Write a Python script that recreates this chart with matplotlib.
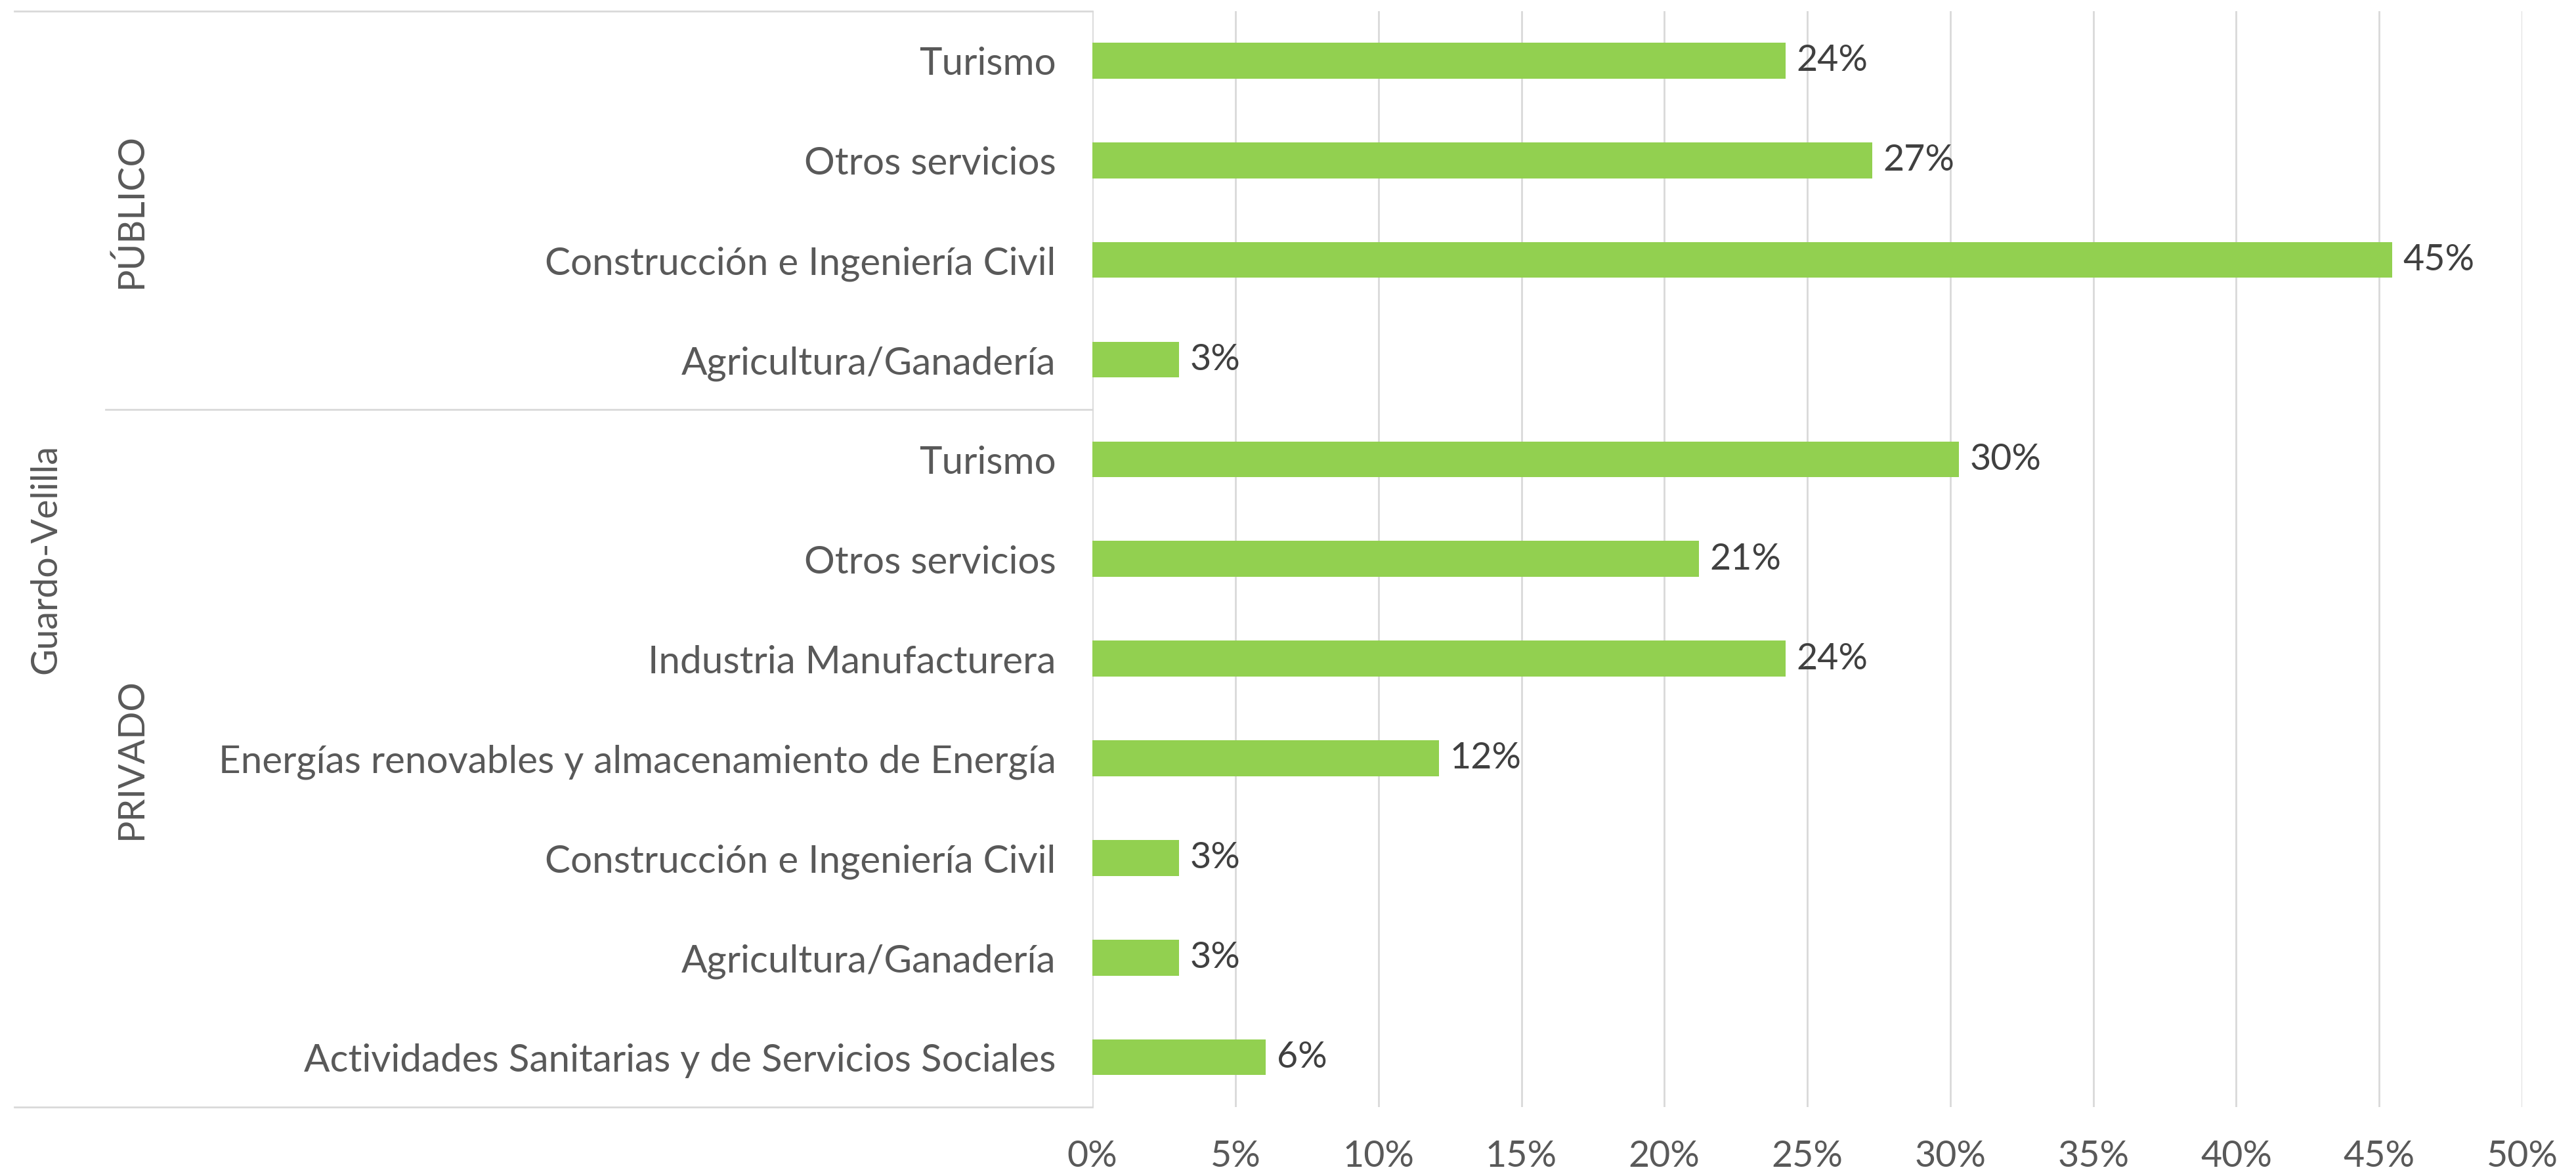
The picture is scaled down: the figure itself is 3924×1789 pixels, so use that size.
import matplotlib.pyplot as plt
import matplotlib.transforms as mtransforms
from matplotlib.ticker import FuncFormatter

# Datos (de arriba abajo)
categorias = ['Turismo', 'Otros servicios', 'Construcción e Ingeniería Civil', 'Agricultura/Ganadería',
              'Turismo', 'Otros servicios', 'Industria Manufacturera',
              'Energías renovables y almacenamiento de Energía', 'Construcción e Ingeniería Civil',
              'Agricultura/Ganadería', 'Actividades Sanitarias y de Servicios Sociales']
valores = [24.24, 27.27, 45.45, 3.03,
           30.30, 21.21, 24.24, 12.12, 3.03, 3.03, 6.06]
etiquetas = ['24%', '27%', '45%', '3%', '30%', '21%', '24%', '12%', '3%', '3%', '6%']
grupos = ['PÚBLICO', 'PRIVADO']
tam_grupos = [4, 7]
nivel_superior = 'Guardo-Velilla'
x_ticks = [0, 5, 10, 15, 20, 25, 30, 35, 40, 45, 50]

verde = '#92D050'
gris_texto = '#595959'
gris_linea = '#D9D9D9'

plt.rcParams['font.family'] = ['Lato', 'DejaVu Sans']

fig = plt.figure(figsize=(19.62, 8.9475), dpi=200)
ax = fig.add_axes([0.4241, 0.0570, 0.5550, 0.9335])

y = list(range(len(categorias)))
ax.barh(y, valores, height=0.36, color=verde, zorder=3)
ax.set_ylim(len(categorias) - 0.5, -0.5)
ax.set_xlim(0, 50)

for yi, v, t in zip(y, valores, etiquetas):
    ax.annotate(t, (v, yi), xytext=(6, 0), textcoords='offset points',
                va='center', ha='left', fontsize=20, color='#404040')

ax.set_xticks(x_ticks)
ax.xaxis.set_major_formatter(FuncFormatter(lambda v, p: f'{v:.0f}%'))
ax.set_yticks(y)
ax.set_yticklabels(categorias)
ax.tick_params(axis='x', length=0, pad=18, labelsize=20, labelcolor=gris_texto)
ax.tick_params(axis='y', length=0, pad=20, labelsize=21, labelcolor=gris_texto)
ax.grid(axis='x', color=gris_linea, lw=1.0, zorder=0)
for s in ax.spines.values():
    s.set_visible(False)

# Ejes de categorías multinivel
tr = mtransforms.blended_transform_factory(fig.transFigure, ax.transData)
x_axis = 0.4241
ax.plot([0.0055, x_axis], [-0.5, -0.5], transform=tr, color=gris_linea, lw=1.0, clip_on=False)
ax.plot([0.0055, x_axis], [len(categorias) - 0.5, len(categorias) - 0.5], transform=tr,
        color=gris_linea, lw=1.0, clip_on=False)
inicio = -0.5
for i, (g, n) in enumerate(zip(grupos, tam_grupos)):
    fin = inicio + n
    ax.text(0.051, (inicio + fin) / 2, g, transform=tr, rotation=90, ha='center', va='center',
            fontsize=20, color=gris_texto)
    if i < len(grupos) - 1:
        ax.plot([0.041, x_axis], [fin, fin], transform=tr, color=gris_linea, lw=1.0, clip_on=False)
    inicio = fin
ax.text(0.0178, (len(categorias) - 1) / 2, nivel_superior, transform=tr, rotation=90,
        ha='center', va='center', fontsize=20, color=gris_texto)

fig.savefig('out.png', dpi=200)
